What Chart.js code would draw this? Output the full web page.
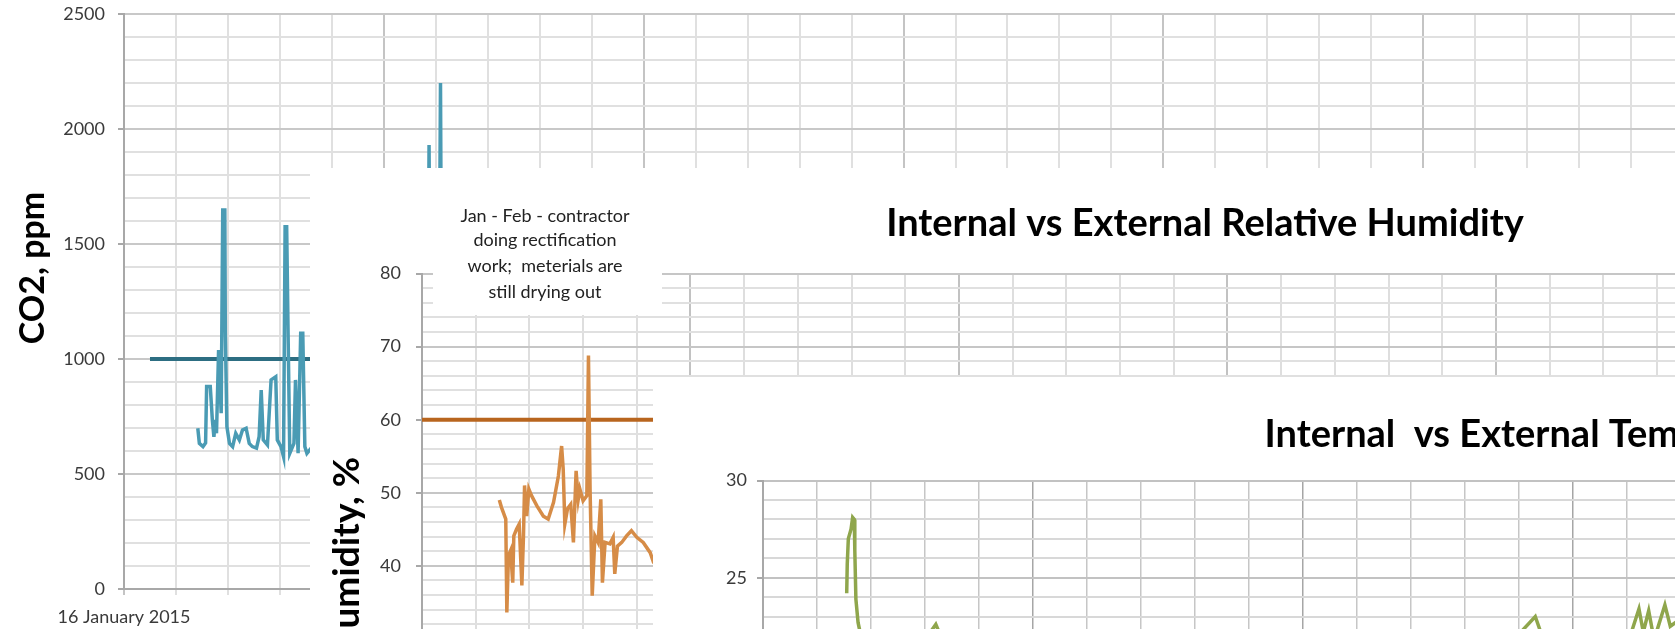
<!DOCTYPE html>
<html>
<head>
<meta charset="utf-8">
<script src="https://cdn.jsdelivr.net/npm/chart.js@4.4.1/dist/chart.umd.min.js"></script>
<style>
  body { margin: 0; width: 1675px; height: 629px; overflow: hidden; position: relative; background: #fff; }
  canvas { position: absolute; background: #fff; }
  #co2 { left: 0; top: 0; }
  #hum { left: 310px; top: 168px; }
  #temp { left: 653px; top: 377px; }
</style>
</head>
<body>
<canvas id="co2" width="1798" height="629"></canvas>
<canvas id="hum" width="1790" height="720"></canvas>
<canvas id="temp" width="1782" height="522"></canvas>
<script>
// x values are days counted from the first gridline (one column = one day)
const co2DateLabel = '16 January 2015';
const co2Days = [1.42,1.45,1.52,1.57,1.59,1.66,1.70,1.73,1.76,1.78,1.82,1.87,1.90,1.94,1.95,1.98,2.03,2.09,2.15,2.22,2.28,2.35,2.41,2.47,2.55,2.60,2.64,2.68,2.76,2.83,2.92,2.95,3.02,3.07,3.10,3.13,3.16,3.19,3.27,3.30,3.35,3.40,3.44,3.48,3.52,3.70,4.10,4.60,5.10,5.60,5.84,5.87,5.90,6.05,6.09,6.12,6.60,7.20];
const co2Ppm = [699,633,619,635,880,880,735,662,735,677,1039,764,1648,1648,1112,706,633,619,677,648,691,699,633,619,612,662,865,648,626,909,923,648,619,575,1575,1575,1068,590,633,909,590,1112,1112,619,590,640,700,660,720,680,700,1930,720,680,2200,700,650,640];
const co2LimitDays = [0.5, 32];
const co2Limit = [1000, 1000];

const humTitle = 'Internal vs External Relative Humidity';
const humNote = ['Jan - Feb - contractor', 'doing rectification', 'work;  meterials are', 'still drying out'];
const humDays = [1.44,1.48,1.56,1.58,1.61,1.65,1.69,1.71,1.76,1.81,1.86,1.89,1.91,1.95,1.99,2.04,2.14,2.26,2.35,2.45,2.54,2.60,2.63,2.66,2.71,2.77,2.82,2.87,2.91,2.94,3.00,3.07,3.10,3.13,3.17,3.22,3.28,3.33,3.36,3.41,3.50,3.56,3.59,3.64,3.72,3.81,3.90,4.00,4.12,4.25,4.31,4.60,5.20,6.00];
const humValues = [49.0,48.0,46.4,33.6,41.4,42.1,37.7,44.1,45.0,45.7,37.3,44.1,51.0,46.8,50.5,49.6,48.2,46.8,46.4,48.7,52.3,56.4,53.2,45.7,47.8,48.4,43.2,53.0,49.1,50.5,48.9,49.6,68.8,50.5,35.9,44.1,43.2,49.1,37.7,43.2,43.0,43.9,38.9,42.7,43.2,44.1,44.8,43.9,43.2,41.8,40.5,38.0,40.0,42.0];
const humLimitDays = [0, 32];
const humLimit = [60, 60];

const tempTitle = 'Internal  vs External Temperature';
const tempDays = [1.55,1.56,1.58,1.63,1.66,1.69,1.70,1.72,1.76,1.85,2.10,2.60,3.00,3.20,3.35,4.00,6.00,8.00,10.00,12.00,13.80,14.30,14.45,15.00,16.00,16.22,16.30,16.40,16.50,16.70,16.80,17.00,17.20,18.00];
const tempValues = [24.2,25.7,27.0,27.5,28.1,28.0,26.4,23.9,22.7,21.5,20.8,21.2,21.8,22.6,21.6,21.0,20.5,20.0,20.8,21.2,21.5,23.0,21.8,21.0,21.5,23.4,22.2,23.3,21.8,23.6,22.5,22.9,22.0,21.5];

Chart.defaults.font.family = 'Lato';
Chart.defaults.color = '#3a3a3a';
Chart.defaults.animation = false;
Chart.defaults.plugins.legend.display = false;
Chart.defaults.plugins.tooltip.enabled = false;

function pts(xs, ys) {
    return xs.map((x, i) => ({ x: x, y: ys[i] }));
}
function isStep(v, every) {
    return Math.abs(v / every - Math.round(v / every)) < 1e-6;
}
function lineSet(xs, ys, color, width) {
    return { data: pts(xs, ys), borderColor: color, borderWidth: width, pointRadius: 0, tension: 0, fill: false };
}

// rotated axis caption
function sideLabel(text, x, y, align, size) {
    return {
        id: 'sideLabel',
        afterDraw(chart) {
            const c = chart.ctx;
            c.save();
            c.translate(x, y);
            c.rotate(-Math.PI / 2);
            c.font = 'bold ' + size + 'px Lato';
            c.fillStyle = '#000';
            c.textAlign = align;
            c.textBaseline = 'middle';
            c.fillText(text, 0, 0);
            c.restore();
        }
    };
}

const noteBox = {
    id: 'noteBox',
    afterDraw(chart) {
        const c = chart.ctx;
        c.save();
        c.fillStyle = '#fff';
        c.fillRect(123, 22, 229, 125);
        c.font = '18px Lato';
        c.fillStyle = '#222';
        c.textAlign = 'center';
        c.textBaseline = 'middle';
        const ys = [48, 72, 98, 124];
        humNote.forEach((t, i) => c.fillText(t, 235, ys[i]));
        c.restore();
    }
};

function yAxis(min, max, step, major, width, pad, minorCol, majorCol) {
    return {
        min: min, max: max,
        afterFit: s => { s.width = width; s.paddingTop = 0; s.paddingBottom = 0; },
        border: { color: '#a8a8a8', width: 2 },
        grid: {
            lineWidth: 2, tickLength: 6,
            color: c => isStep(c.tick.value, major) ? majorCol : minorCol,
            tickColor: c => isStep(c.tick.value, major) ? '#a8a8a8' : 'rgba(0,0,0,0)'
        },
        ticks: {
            stepSize: step, autoSkip: false, padding: pad, font: { size: 18 },
            callback: v => isStep(v, major) ? v : ''
        }
    };
}
function xAxis(max, height, minorCol, majorCol, lw, labelFn) {
    return {
        type: 'linear', min: 0, max: max,
        afterFit: s => { s.height = height; },
        border: { color: '#a8a8a8', width: 2 },
        grid: {
            lineWidth: lw, tickLength: 6,
            color: c => isStep(c.tick.value, 5) ? majorCol : minorCol
        },
        ticks: {
            stepSize: 1, includeBounds: false, autoSkip: false, maxRotation: 0, padding: 11,
            font: { size: 18 }, callback: labelFn
        }
    };
}

new Chart(document.getElementById('co2'), {
    type: 'line',
    data: {
        datasets: [
            lineSet(co2Days, co2Ppm, '#4a9bb4', 3.5),
            lineSet(co2LimitDays, co2Limit, '#2d6e82', 4)
        ]
    },
    options: {
        responsive: false,
        devicePixelRatio: 1,
        layout: { padding: { top: 14, left: 0, right: 0, bottom: 0 } },
        scales: {
            x: xAxis(32, 40, '#e0e0e0', '#c4c4c4', 2, v => v === 0 ? co2DateLabel : ''),
            y: yAxis(0, 2500, 100, 500, 124, 13, '#e0e0e0', '#c8c8c8')
        }
    },
    plugins: [sideLabel('CO2, ppm', 33, 268, 'center', 34)]
});

new Chart(document.getElementById('hum'), {
    type: 'line',
    data: {
        datasets: [
            lineSet(humDays, humValues, '#d68c47', 3.5),
            lineSet(humLimitDays, humLimit, '#b8651e', 4)
        ]
    },
    options: {
        responsive: false,
        devicePixelRatio: 1,
        layout: { padding: 0 },
        plugins: {
            title: {
                display: true, text: humTitle, color: '#000',
                font: { size: 38, weight: 'bold' },
                padding: { top: 33, bottom: 27 }
            }
        },
        scales: {
            x: xAxis(31.25, 30, '#dedede', '#c2c2c2', 2, () => ''),
            y: yAxis(0, 80, 2, 10, 112, 15, '#e0e0e0', '#c6c6c6')
        }
    },
    plugins: [noteBox, sideLabel('Humidity, %', 37, 289, 'right', 37)]
});

new Chart(document.getElementById('temp'), {
    type: 'line',
    data: {
        datasets: [lineSet(tempDays, tempValues, '#8fa64c', 3.5)]
    },
    options: {
        responsive: false,
        devicePixelRatio: 1,
        layout: { padding: 0 },
        plugins: {
            title: {
                display: true, text: tempTitle, color: '#000',
                font: { size: 38, weight: 'bold' },
                padding: { top: 35, bottom: 23 }
            }
        },
        scales: {
            x: xAxis(30.96, 30, '#c6c6c6', '#a6a6a6', 1.5, () => ''),
            y: yAxis(10, 30, 1, 5, 110, 10, '#d8d8d8', '#c2c2c2')
        }
    }
});
</script>
</body>
</html>
